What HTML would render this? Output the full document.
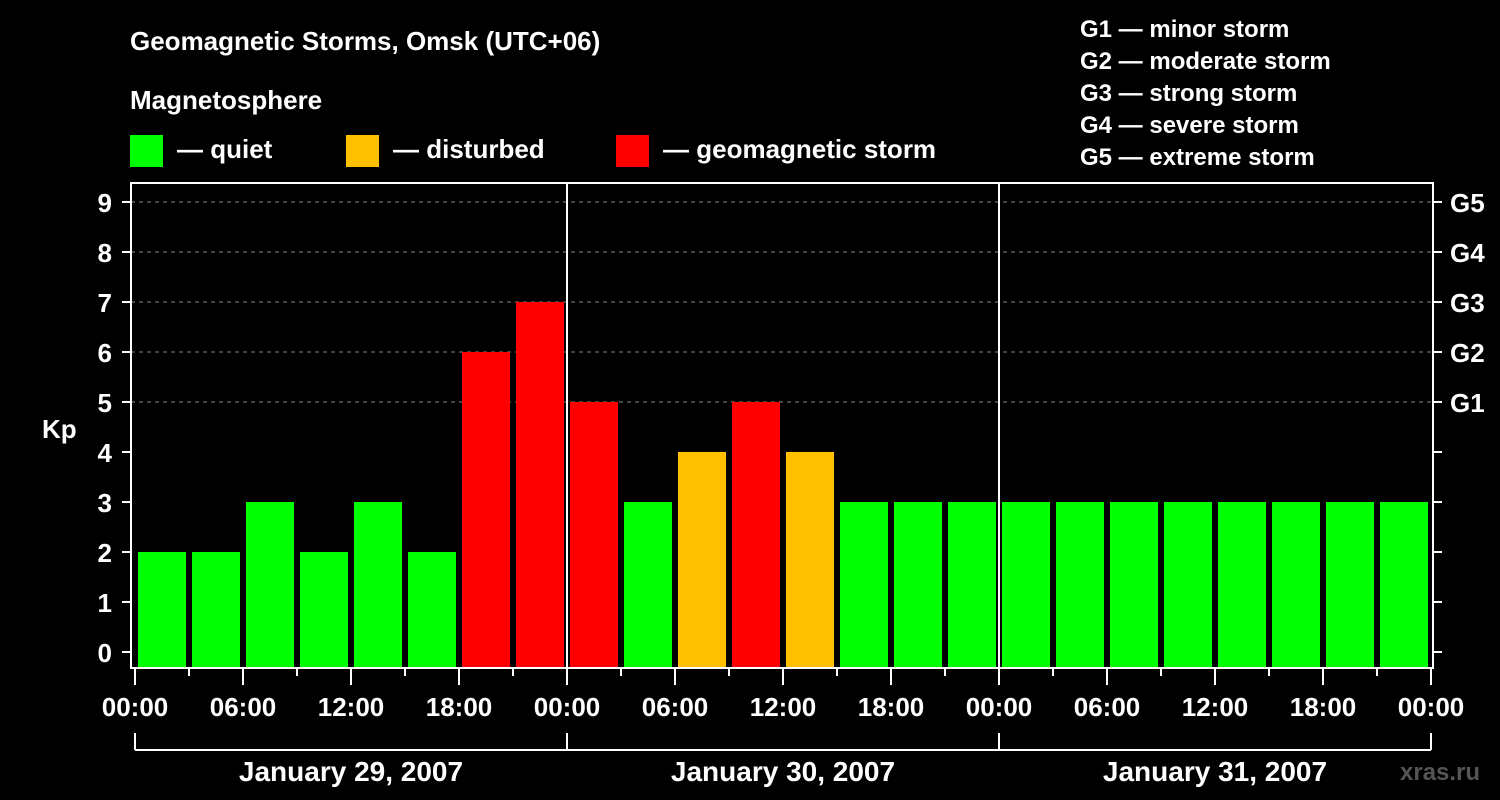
<!DOCTYPE html>
<html><head><meta charset="utf-8"><style>
html,body{margin:0;padding:0;background:#000;}
svg{display:block;font-family:"Liberation Sans",Arial,sans-serif;font-weight:bold;}
</style></head><body>
<svg id="chart" width="1500" height="800" viewBox="0 0 1500 800">
<rect x="0" y="0" width="1500" height="800" fill="#000"/>
<text x="130" y="50" fill="#fff" font-size="26">Geomagnetic Storms, Omsk (UTC+06)</text>
<text x="130" y="109" fill="#fff" font-size="26">Magnetosphere</text>
<g><rect x="130" y="135" width="33" height="32" fill="#00ff00"/><text x="177" y="158" fill="#fff" font-size="26">— quiet</text></g>
<g><rect x="346" y="135" width="33" height="32" fill="#ffc000"/><text x="393" y="158" fill="#fff" font-size="26">— disturbed</text></g>
<g><rect x="616" y="135" width="33" height="32" fill="#ff0000"/><text x="663" y="158" fill="#fff" font-size="26">— geomagnetic storm</text></g>
<g fill="#fff" font-size="24">
<text x="1080" y="37">G1 — minor storm</text>
<text x="1080" y="69">G2 — moderate storm</text>
<text x="1080" y="101">G3 — strong storm</text>
<text x="1080" y="133">G4 — severe storm</text>
<text x="1080" y="165">G5 — extreme storm</text>
</g>
<text x="42" y="438" fill="#fff" font-size="26">Kp</text>
<text x="1400" y="780" fill="#555" font-size="24">xras.ru</text>
<g id="grid"></g><g id="bars"></g><g id="axes"></g>
</svg>
<script>
const kpValues=[2,2,3,2,3,2,6,7,5,3,4,5,4,3,3,3,3,3,3,3,3,3,3,3];
const yTicks=[0,1,2,3,4,5,6,7,8,9];
const gLabels=["G1","G2","G3","G4","G5"];
const gLevels=[5,6,7,8,9];
const xTickLabels=["00:00","06:00","12:00","18:00","00:00","06:00","12:00","18:00","00:00","06:00","12:00","18:00","00:00"];
const dayLabels=["January 29, 2007","January 30, 2007","January 31, 2007"];
const NS="http://www.w3.org/2000/svg";
const L=131,R=1433,T=183,B=668,X0=135,HOURPX=18;
const y=v=>652-v*50;
const x=h=>X0+h*HOURPX;
function mk(tag,attrs,parent,text){const e=document.createElementNS(NS,tag);for(const k in attrs)e.setAttribute(k,attrs[k]);if(text!==undefined)e.textContent=text;parent.appendChild(e);return e;}
const grid=document.getElementById('grid'),bars=document.getElementById('bars'),axes=document.getElementById('axes');
gLevels.forEach((g,i)=>{
 const ln=mk('line',{x1:L,x2:R,y1:y(g),y2:y(g),stroke:'#888','stroke-dasharray':'4,4','stroke-width':1},grid);
 
 
 const t=mk('text',{x:1450,y:y(g)+10,fill:'#fff','font-size':26},axes,gLabels[i]);
 
 
});
kpValues.forEach((v,i)=>{
 const c=v>=5?'#ff0000':(v===4?'#ffc000':'#00ff00');
 const r=mk('rect',{x:x(i*3)+3,y:y(v),width:48,height:B-y(v),fill:c},bars);
 
 
});
// frame
const fr=mk('rect',{x:L,y:T,width:R-L,height:B-T,fill:'none',stroke:'#fff','stroke-width':2},axes);


[1,2].forEach(d=>{const l=mk('line',{x1:x(d*24),x2:x(d*24),y1:T,y2:B,stroke:'#fff','stroke-width':2},axes);
 
 });
yTicks.forEach(v=>{
 mk('line',{x1:122,x2:L,y1:y(v),y2:y(v),stroke:'#fff','stroke-width':2},axes);
 mk('line',{x1:R,x2:1442,y1:y(v),y2:y(v),stroke:'#fff','stroke-width':2},axes);
 const t=mk('text',{x:112,y:y(v)+10,fill:'#fff','font-size':26,'text-anchor':'end'},axes,v);
 
 
});
for(let i=0;i<=24;i++){
 mk('line',{x1:x(i*3),x2:x(i*3),y1:B,y2:i%2?676:685,stroke:'#fff','stroke-width':2},axes);
}
xTickLabels.forEach((s,i)=>{
 const t=mk('text',{x:x(i*6),y:716,fill:'#fff','font-size':26,'text-anchor':'middle'},axes,s);
 
 
});
mk('line',{x1:x(0),x2:x(72),y1:750,y2:750,stroke:'#fff','stroke-width':2},axes);
for(let d=0;d<=3;d++)mk('line',{x1:x(d*24),x2:x(d*24),y1:733,y2:750,stroke:'#fff','stroke-width':2},axes);
dayLabels.forEach((s,d)=>{
 const t=mk('text',{x:x(d*24+12),y:781,fill:'#fff','font-size':28,'text-anchor':'middle'},axes,s);
 
 
});
</script>
</body></html>
